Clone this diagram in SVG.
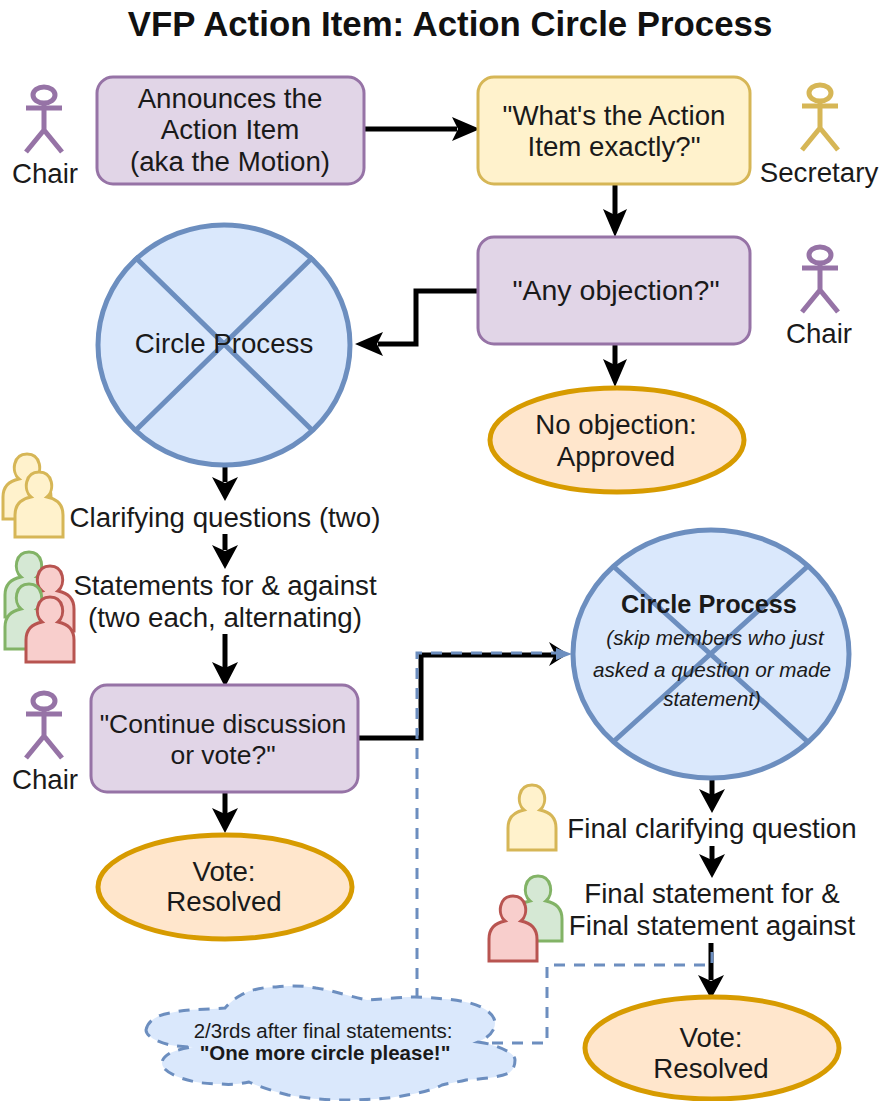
<svg xmlns="http://www.w3.org/2000/svg" width="881" height="1101" viewBox="0 0 881 1101">
<style>
text{font-family:"Liberation Sans",Arial,sans-serif;fill:#1a1a1a;text-anchor:middle;font-size:27.7px}
.t{font-weight:bold;font-size:34.8px;fill:#111}
.pu{fill:#e1d5e7;stroke:#9673a6;stroke-width:3}
.ye{fill:#fff2cc;stroke:#d6b656;stroke-width:3}
.or{fill:#ffe6cc;stroke:#d79b00;stroke-width:5}
.bl{fill:#dae8fc;stroke:#6c8ebf;stroke-width:5}
.x{stroke:#6c8ebf;stroke-width:5;fill:none}
.gr{fill:#d5e8d4;stroke:#82b366;stroke-width:3}
.re{fill:#f8cecc;stroke:#b85450;stroke-width:3}
.ac{fill:none;stroke-width:5}
.c{fill:none;stroke:#000;stroke-width:5}
.d{fill:none;stroke:#6c8ebf;stroke-width:3;stroke-dasharray:11 9}
.h{fill:#000;stroke:none}
.sm{font-size:20.5px}
.it{font-style:italic;font-size:20.7px}
</style>
<defs>
<g id="actor"><ellipse cx="0" cy="-29" rx="11" ry="8"/><path d="M0-21V6M-18-16H18M0 6L-18 28M0 6L18 28"/></g>
<path id="person" d="M-24 0V-22C-24-32-18-38-8-40C-16-47-14-65 0-65C14-65 16-47 8-40C18-38 24-32 24-22V0Z"/>
</defs>
<text class="t" x="450" y="36">VFP Action Item: Action Circle Process</text>
<g id="connectors">
<path class="c" d="M364 129H457"/><path class="h" d="M480 129L452 117L458 129L452 141Z"/>
<path class="c" d="M615 185V218"/><path class="h" d="M615 237L603 209L615 215L627 209Z"/>
<path class="c" d="M477 291H416V344H378"/><path class="h" d="M355 344L383 332L377 344L383 356Z"/>
<path class="c" d="M615 345V368"/><path class="h" d="M615 387L603 359L615 365L627 359Z"/>
<path class="c" d="M225 465V482"/><path class="h" d="M225 501L212 477L225 483L238 477Z"/>
<path class="c" d="M225 534V550"/><path class="h" d="M225 569L212 545L225 551L238 545Z"/>
<path class="c" d="M225 634V668"/><path class="h" d="M225 687L212 662L225 668L238 662Z"/>
<path class="c" d="M358 738H421V655H558"/><path class="h" d="M568 654L549 642L555 654L549 666Z"/>
<path class="c" d="M225 792V815"/><path class="h" d="M225 833L212 808L225 814L238 808Z"/>
<path class="c" d="M712 780V795"/><path class="h" d="M712 813L699 789L712 795L725 789Z"/>
<path class="c" d="M712 846V860"/><path class="h" d="M712 878L699 854L712 860L725 854Z"/>
<path class="c" d="M711 943V980"/><path class="h" d="M711 999L698 975L711 981L724 975Z"/>
<path class="d" d="M417 999V653H560"/><path d="M572 654L556 648V660Z" fill="#6c8ebf"/>
<path class="d" d="M492 1043H547V965H712V943"/>
</g>
<g id="n1"><rect class="pu" x="97" y="77" width="267" height="107" rx="16"/><text x="230" y="108">Announces the</text><text x="230" y="139">Action Item</text><text x="230" y="171">(aka the Motion)</text></g>
<g id="n2"><rect class="ye" x="478" y="77" width="272" height="107" rx="16"/><text x="614" y="125">"What's the Action</text><text x="614" y="156">Item exactly?"</text></g>
<g id="n3"><rect class="pu" x="478" y="237" width="272" height="107" rx="16"/><text x="616" y="300" style="font-size:28.5px">"Any objection?"</text></g>
<g id="n4"><ellipse class="or" cx="617" cy="440" rx="127" ry="52"/><text x="616" y="434">No objection:</text><text x="616" y="466">Approved</text></g>
<g id="n5"><ellipse class="bl" cx="224" cy="345" rx="126" ry="120"/><path class="x" d="M135 257L313 431M313 257L135 431"/><text x="224" y="353">Circle Process</text></g>
<g id="n6"><rect class="pu" x="91" y="685" width="267" height="107" rx="16"/><text x="223" y="733" style="font-size:26.5px">"Continue discussion</text><text x="223" y="764" style="font-size:26.5px">or vote?"</text></g>
<g id="n7"><ellipse class="or" cx="225" cy="887" rx="127" ry="52"/><text x="224" y="881">Vote:</text><text x="224" y="911">Resolved</text></g>
<g id="n8"><ellipse class="bl" cx="711" cy="654" rx="138" ry="124"/><path class="x" d="M613 566L808 742M808 566L613 742"/><text x="709" y="613" style="font-weight:bold;font-size:25.3px">Circle Process</text><text class="it" x="715" y="645">(skip members who just</text><text class="it" x="712" y="677">asked a question or made</text><text class="it" x="712" y="706">statement)</text></g>
<g id="n9"><ellipse class="or" cx="712" cy="1048" rx="127" ry="51"/><text x="711" y="1047">Vote:</text><text x="711" y="1078">Resolved</text></g>
<g id="a1"><use href="#actor" x="44" y="124" class="ac" stroke="#9673a6"/><text x="45" y="183">Chair</text></g>
<g id="a2"><use href="#actor" x="820" y="122" class="ac" stroke="#d6b656"/><text x="819" y="182">Secretary</text></g>
<g id="a3"><use href="#actor" x="820" y="284" class="ac" stroke="#9673a6"/><text x="819" y="343">Chair</text></g>
<g id="a4"><use href="#actor" x="44" y="730" class="ac" stroke="#9673a6"/><text x="45" y="789">Chair</text></g>
<g id="p1"><use href="#person" x="27" y="519" class="ye"/><use href="#person" x="39" y="537" class="ye"/><text x="225" y="527">Clarifying questions (two)</text></g>
<g id="p2"><use href="#person" x="29" y="617" class="gr"/><use href="#person" x="50" y="631" class="re"/><use href="#person" x="29" y="649" class="gr"/><use href="#person" x="50" y="662" class="re"/><text x="225" y="595">Statements for &amp; against</text><text x="225" y="627">(two each, alternating)</text></g>
<g id="p3"><use href="#person" x="532" y="850" class="ye"/><text x="712" y="838">Final clarifying question</text></g>
<g id="p4"><use href="#person" x="538" y="941" class="gr"/><use href="#person" x="513" y="961" class="re"/><text x="712" y="903">Final statement for &amp;</text><text x="712" y="935">Final statement against</text></g>
<g id="cloud"><path d="M146 1030C148 1020 158 1015 170 1013C190 1008 210 1010 225 1008C232 1000 238 997 241 995C252 989 265 987 276 987C292 985 305 986 316 988C335 991 352 997 367 1000C385 999 400 997 415 997C435 998 455 999 470 1003C485 1007 495 1015 495 1023C495 1031 488 1038 478 1042C485 1043 490 1044 492 1045C505 1049 515 1054 515 1060C515 1066 513 1070 509 1073C497 1078 480 1079 466 1080C458 1082 450 1083 442 1085C432 1090 420 1093 407 1095C388 1099 365 1100 343 1100C322 1100 305 1098 288 1095C273 1091 260 1087 249 1082C240 1084 230 1085 221 1084C205 1084 192 1082 181 1078C170 1074 162 1069 162 1063C162 1059 165 1056 170 1053C177 1050 185 1048 193 1047C185 1047 177 1046 170 1045C157 1042 146 1036 146 1030Z" fill="#dae8fc" stroke="#6c8ebf" stroke-width="3" stroke-dasharray="11 9"/><text class="sm" x="323" y="1038">2/3rds after final statements:</text><text class="sm" x="325" y="1060" style="font-weight:bold">"One more circle please!"</text></g>
</svg>
